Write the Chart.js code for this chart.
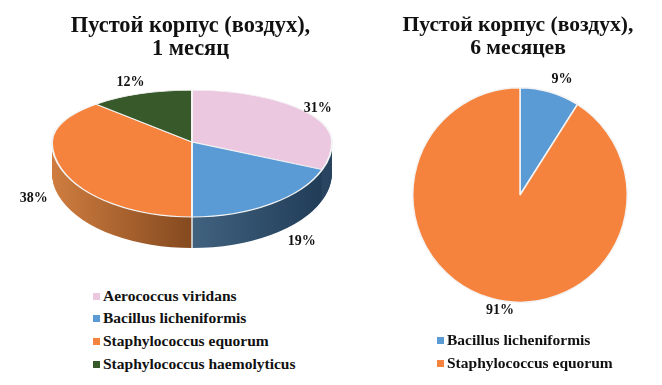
<!DOCTYPE html>
<html>
<head>
<meta charset="utf-8">
<script src="https://cdn.jsdelivr.net/npm/chart.js@4"></script>
<style>
  html, body { margin: 0; padding: 0; background: #fff; }
  #page { position: relative; width: 662px; height: 385px; overflow: hidden; font-family: "Liberation Serif", serif; font-weight: bold; color: #111; }
  canvas { position: absolute; }
  #left-chart { left: 0; top: 0; }
  #right-chart { left: 384px; top: 0; }
  .title { position: absolute; text-align: center; line-height: 23px; white-space: nowrap; }
  #left-title { left: 0; width: 381px; top: 13px; font-size: 22.4px; }
  #right-title { left: 384px; width: 268px; top: 13px; font-size: 21.6px; }
  .legend div { position: absolute; font-size: 15.5px; line-height: 16px; white-space: nowrap; }
  .legend span { position: absolute; left: -10px; top: 5px; width: 7px; height: 7px; }
</style>
</head>
<body>
<div id="page">
  <canvas id="left-chart" width="384" height="284"></canvas>
  <canvas id="right-chart" width="278" height="385"></canvas>
  <div class="title" id="left-title"></div>
  <div class="title" id="right-title"></div>
  <div class="legend" id="left-legend"></div>
  <div class="legend" id="right-legend"></div>
</div>
<script>
const leftTitle = ['Пустой корпус (воздух),', '1 месяц'];
const rightTitle = ['Пустой корпус (воздух),', '6 месяцев'];

const leftLabels = ['Aerococcus viridans', 'Bacillus licheniformis', 'Staphylococcus equorum', 'Staphylococcus haemolyticus'];
const leftValues = [31, 19, 38, 12];
const rightLabels = ['Bacillus licheniformis', 'Staphylococcus equorum'];
const rightValues = [9, 91];

const leftColors = ['#ecc8e0', '#5b9bd5', '#f6833d', '#385a2b'];
const rightColors = ['#5b9bd5', '#f6833d'];

// how far each % label sits from the slice's outer edge
const leftNudge = [[10, -4], [31, 37], [-28, 29], [-10, -11]];
const rightNudge = [[12, -13], [10, 12]];

// the tilted pie is squashed more above the centre than below it
const upperScale = 0.371;
const lowerScale = 0.536;
const wallDepth = 31;

function drawLabel(ctx, text, x, y) {
    ctx.save();
    ctx.font = 'bold 14px "Liberation Serif", serif';
    ctx.fillStyle = '#111';
    ctx.textAlign = 'center';
    ctx.textBaseline = 'middle';
    ctx.fillText(text, x, y);
    ctx.restore();
}

function midAngle(arc) {
    return (arc.startAngle + arc.endAngle) / 2;
}

function drawHalf(chart, arcs, upper, dy) {
    const ctx = chart.ctx;
    const cx = arcs[0].x;
    const cy = arcs[0].y;
    const scale = upper ? upperScale : lowerScale;
    ctx.save();
    ctx.beginPath();
    if (upper) {
        ctx.rect(0, 0, chart.width, cy + dy);
    } else {
        ctx.rect(0, cy + dy, chart.width, chart.height - cy - dy);
    }
    ctx.clip();
    ctx.translate(cx, cy + dy);
    ctx.scale(1, scale);
    ctx.translate(-cx, -cy);
    arcs.forEach(arc => arc.draw(ctx));
    ctx.restore();
}

const tiltedPie = {
    id: 'tiltedPie',
    beforeDatasetsDraw(chart) {
        const ctx = chart.ctx;
        const arcs = chart.getDatasetMeta(0).data;
        const cx = arcs[0].x;
        const cy = arcs[0].y;
        const r = arcs[0].outerRadius;

        const blueWall = ctx.createLinearGradient(cx, 0, cx + r, 0);
        blueWall.addColorStop(0, '#41627f');
        blueWall.addColorStop(1, '#1e3a55');
        const orangeWall = ctx.createLinearGradient(cx - r, 0, cx, 0);
        orangeWall.addColorStop(0, '#cf7d3f');
        orangeWall.addColorStop(1, '#84491f');
        const wallFills = ['#2a4560', blueWall, orangeWall, orangeWall];

        const topOptions = arcs.map(arc => arc.options);
        arcs.forEach((arc, i) => {
            arc.options = Object.assign({}, topOptions[i], { backgroundColor: wallFills[i], borderWidth: 0 });
        });
        for (let dy = wallDepth; dy > 0; dy--) {
            drawHalf(chart, arcs, false, dy);
        }
        arcs.forEach((arc, i) => { arc.options = topOptions[i]; });

        drawHalf(chart, arcs, true, 0);
        drawHalf(chart, arcs, false, 0);

        // seam on the wall under the blue/orange boundary
        ctx.save();
        ctx.strokeStyle = '#e8e8e8';
        ctx.lineWidth = 1.5;
        ctx.beginPath();
        ctx.moveTo(cx, cy + r * lowerScale);
        ctx.lineTo(cx, cy + r * lowerScale + wallDepth);
        ctx.stroke();
        ctx.restore();

        arcs.forEach((arc, i) => {
            const a = midAngle(arc);
            const s = Math.sin(a) < 0 ? upperScale : lowerScale;
            const x = cx + r * Math.cos(a) + leftNudge[i][0];
            const y = cy + r * s * Math.sin(a) + leftNudge[i][1];
            drawLabel(ctx, leftValues[i] + '%', x, y);
        });
        return false;
    }
};

const flatLabels = {
    id: 'flatLabels',
    afterDatasetsDraw(chart) {
        chart.getDatasetMeta(0).data.forEach((arc, i) => {
            const a = midAngle(arc);
            const x = arc.x + arc.outerRadius * Math.cos(a) + rightNudge[i][0];
            const y = arc.y + arc.outerRadius * Math.sin(a) + rightNudge[i][1];
            drawLabel(chart.ctx, rightValues[i] + '%', x, y);
        });
    }
};

const baseOptions = {
    responsive: false,
    animation: false,
    plugins: { legend: { display: false }, tooltip: { enabled: false } }
};

new Chart(document.getElementById('left-chart'), {
    type: 'pie',
    data: {
        labels: leftLabels,
        datasets: [{ data: leftValues, backgroundColor: leftColors, borderColor: '#f4f4f4', borderWidth: 2, radius: 140 }]
    },
    options: baseOptions,
    plugins: [tiltedPie]
});

new Chart(document.getElementById('right-chart'), {
    type: 'pie',
    data: {
        labels: rightLabels,
        datasets: [{ data: rightValues, backgroundColor: rightColors, borderColor: '#f4f4f4', borderWidth: 1.5 }]
    },
    options: Object.assign({}, baseOptions, { layout: { padding: { left: 28, right: 34, top: 87, bottom: 82 } } }),
    plugins: [flatLabels]
});

function fillTitle(id, lines) {
    document.getElementById(id).innerHTML = lines.join('<br>');
}
fillTitle('left-title', leftTitle);
fillTitle('right-title', rightTitle);

function fillLegend(id, labels, colors, left, rows) {
    const box = document.getElementById(id);
    labels.forEach((label, i) => {
        const item = document.createElement('div');
        item.style.left = left + 'px';
        item.style.top = rows[i] + 'px';
        item.textContent = label;
        const swatch = document.createElement('span');
        swatch.style.background = colors[i];
        item.appendChild(swatch);
        box.appendChild(item);
    });
}
fillLegend('left-legend', leftLabels, leftColors, 103, [288, 310, 333, 356]);
fillLegend('right-legend', rightLabels, rightColors, 447, [332, 355]);
</script>
</body>
</html>
